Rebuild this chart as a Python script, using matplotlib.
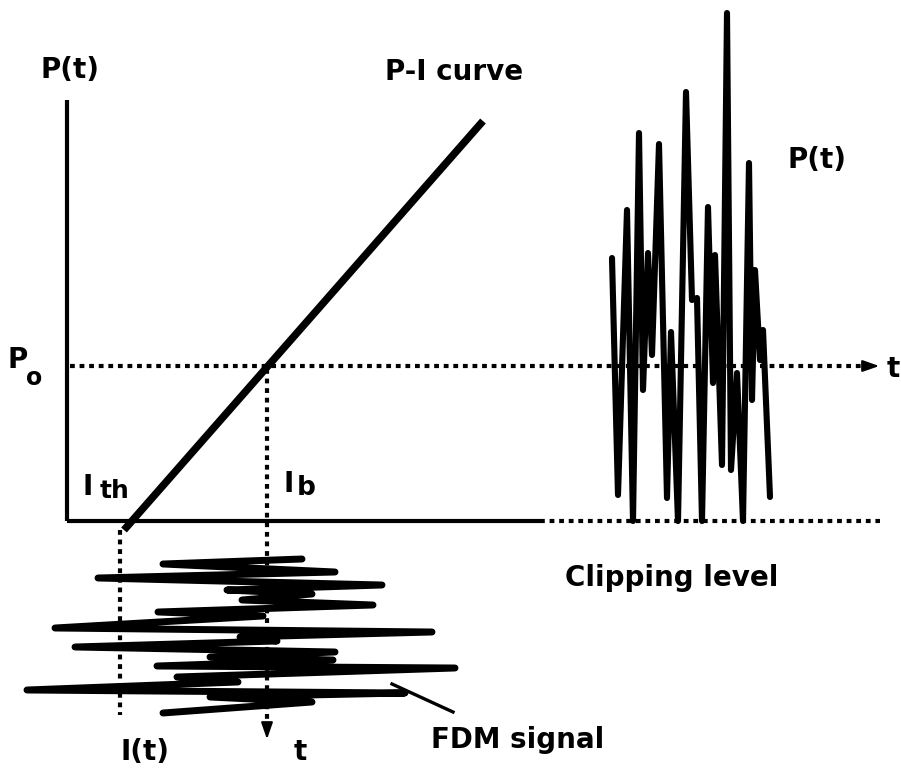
import numpy as np
import matplotlib
matplotlib.use("Agg")
import matplotlib.pyplot as plt

plt.rcParams['font.family'] = ['DejaVu Sans']

# diagram drawn in picture units (x to the right, y downwards)
axis_x = 67
axis_top = 100
axis_y = 521
axis_solid_end = 540
axis_dotted_end = 880

pi_curve_x = [124, 483]
pi_curve_y = [530, 121]

p0_y = 366
i_b_x = 267
i_th_x = 120

# clipped output power P(t) (vertical trace on the right)
pt_x = [612, 618, 627, 633, 639, 643, 648, 652, 659, 667, 671, 678, 686, 692,
        697, 702, 708, 713, 715, 722, 727, 731, 737, 743, 749, 752, 755, 760,
        763, 770]
pt_y = [258, 495, 210, 521, 133, 390, 253, 355, 144, 498, 332, 521, 92, 300,
        298, 521, 207, 383, 255, 465, 13, 470, 373, 521, 163, 400, 270, 360,
        330, 497]

# FDM drive current I(t) (horizontal trace below the axis)
fdm_x = [302, 163, 335, 98, 382, 227, 312, 242, 373, 158, 263, 55, 432, 240,
         277, 75, 335, 210, 333, 157, 455, 177, 238, 27, 405, 210, 312, 163]
fdm_y = [559, 564, 572, 578, 585, 590, 594, 600, 605, 612, 616, 628, 632, 637,
         641, 647, 652, 657, 660, 666, 668, 677, 682, 690, 693, 697, 702, 713]

pointer_x = [392, 453]
pointer_y = [684, 712]

fig = plt.figure(figsize=(9.01, 7.78), dpi=100)
ax = fig.add_axes([0, 0, 1, 1])
ax.set_xlim(0, 901)
ax.set_ylim(778, 0)
ax.axis('off')

dot = dict(color='black', lw=3.0, dashes=(1.15, 1.15), dash_capstyle='butt')

# axes of the P-I plot
ax.plot([axis_x, axis_x], [axis_top, axis_y], color='black', lw=3.0,
        solid_capstyle='butt')
ax.plot([axis_x, axis_solid_end], [axis_y, axis_y], color='black', lw=3.0,
        solid_capstyle='butt')
ax.plot([axis_solid_end, axis_dotted_end], [axis_y, axis_y], **dot)

# P-I curve
ax.plot(pi_curve_x, pi_curve_y, color='black', lw=5.4, solid_capstyle='butt')

# bias lines
ax.plot([70, 866], [p0_y, p0_y], **dot)
ax.annotate('', xy=(882, p0_y), xytext=(862, p0_y),
            arrowprops=dict(arrowstyle='-|>,head_length=1.0,head_width=0.35',
                            color='black', lw=1.5))
ax.plot([i_b_x, i_b_x], [p0_y + 3, 722], **dot)
ax.annotate('', xy=(i_b_x, 742), xytext=(i_b_x, 720),
            arrowprops=dict(arrowstyle='-|>,head_length=1.0,head_width=0.35',
                            color='black', lw=1.5))
ax.plot([i_th_x, i_th_x], [530, 715], **dot)

# signals
ax.plot(pt_x, pt_y, color='black', lw=4.4, solid_joinstyle='round',
        solid_capstyle='round')
ax.plot(fdm_x, fdm_y, color='black', lw=5.0, solid_joinstyle='round',
        solid_capstyle='round')
ax.plot(pointer_x, pointer_y, color='black', lw=2.4)

# labels
fs = 20
tk = dict(fontsize=fs, fontweight='bold', ha='center', va='center')
ax.text(70, 70, 'P(t)', **tk)
ax.text(454, 72, 'P-I curve', **tk)
ax.text(18, 360, 'P', **tk)
ax.text(34, 378, 'o', fontsize=17, fontweight='bold', ha='center', va='center')
ax.text(88, 487, 'I', **tk)
ax.text(115, 491, 'th', fontsize=18, fontweight='bold', ha='center', va='center')
ax.text(289, 484, 'I', **tk)
ax.text(306, 488, 'b', fontsize=19, fontweight='bold', ha='center', va='center')
ax.text(817, 160, 'P(t)', **tk)
ax.text(893, 369, 't', **tk)
ax.text(672, 578, 'Clipping level', **tk)
ax.text(518, 740, 'FDM signal', **tk)
ax.text(145, 752, 'I(t)', **tk)
ax.text(300, 752, 't', **tk)

fig.savefig('out.png', dpi=100)
